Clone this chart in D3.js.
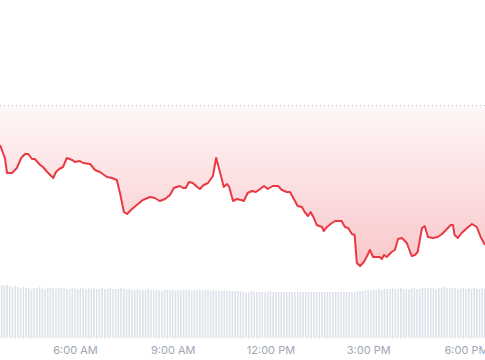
<!DOCTYPE html>
<html>
<head>
<meta charset="utf-8">
<script src="https://cdn.jsdelivr.net/npm/d3@7"></script>
<style>
  body { margin: 0; background: #fff; }
  svg { display: block; }
</style>
</head>
<body>
<div id="chart"></div>
<script>
// price series (time of day, price)
var times = ["03:42","03:51","03:55","04:04","04:13","04:21","04:28","04:34","04:41","04:46",
  "04:56","05:01","05:09","05:20","05:25","05:31","05:38","05:45","05:55","06:00",
  "06:09","06:15","06:28","06:37","06:46","06:59","07:08","07:17","07:23","07:30",
  "07:36","07:45","07:56","08:05","08:18","08:27","08:36","08:46","08:55","09:02",
  "09:13","09:19","09:24","09:30","09:37","09:45","09:50","09:57","10:05","10:14",
  "10:20","10:27","10:34","10:40","10:44","10:51","10:58","11:06","11:11","11:18",
  "11:26","11:33","11:41","11:48","11:55","12:04","12:14","12:21","12:30","12:36",
  "12:43","12:50","12:58","13:03","13:09","13:14","13:20","13:25","13:35","13:38",
  "13:44","13:53","13:59","14:11","14:17","14:23","14:30","14:35","14:39","14:45",
  "14:52","14:57","15:03","15:09","15:16","15:21","15:25","15:29","15:34","15:43",
  "15:49","15:55","16:02","16:11","16:20","16:26","16:31","16:39","16:44","16:50",
  "16:59","17:08","17:16","17:23","17:32","17:36","17:39","17:45","17:52","18:02",
  "18:11","18:20","18:27","18:35"];

var prices = [27240,27188,27128,27128,27148,27188,27204,27204,27184,27184,
  27160,27152,27132,27108,27132,27144,27152,27188,27180,27172,
  27176,27168,27164,27140,27132,27112,27108,27100,27048,26972,
  26964,26984,27004,27020,27032,27028,27016,27024,27040,27068,
  27076,27068,27068,27092,27088,27072,27064,27080,27088,27116,
  27188,27132,27072,27084,27072,27016,27024,27020,27016,27048,
  27056,27052,27064,27076,27064,27076,27076,27060,27052,27052,
  27024,26996,26992,26972,26956,26972,26948,26920,26912,26896,
  26912,26928,26936,26936,26912,26908,26884,26880,26768,26756,
  26772,26792,26820,26792,26792,26792,26784,26800,26792,26812,
  26820,26864,26868,26848,26796,26800,26812,26908,26916,26872,
  26868,26872,26884,26900,26920,26920,26880,26868,26888,26908,
  26924,26912,26872,26840];

// reference (previous close) price, the dotted line
var basePrice = 27400;

// 5-minute volume bars from 03:45 to 18:35 (millions)
var volumes = [53,52,53,52,51,52,51,50,51,
  50,50,49,50,50,51,50,49,50,50,50,49,50,50,50,49,49,50,50,49,
  50,50,49,50,49,50,49,49,50,49,49,50,49,49,49,50,49,49,49,
  48,48,49,48,48,48,49,48,48,48,48,47,48,48,48,48,47,48,48,48,
  48,48,47,48,48,48,47,48,48,47,48,47,47,47,48,47,47,47,47,47,47,
  46,46,46,47,46,46,46,46,46,46,47,46,46,46,46,46,46,46,46,46,
  46,46,46,46,46,46,46,46,46,46,46,46,46,46,46,46,46,46,46,46,46,46,47,
  47,47,48,48,47,48,48,49,48,
  49,49,49,50,49,49,50,49,49,49,50,50,49,49,50,50,50,50,50,49,
  50,50,51,50,50,50,50,49,50,50,49,50,49,50,49,49,50,49];

var tickFormat = "%-I:%M %p";

var width = 485, height = 360;
var red = "#ea3943";
var parse = d3.timeParse("%H:%M");

var points = times.map(function(t, i){ return { date: parse(t), price: prices[i] }; });

var x = d3.scaleTime()
  .domain([parse("03:42"), parse("18:35")])
  .range([0, width]);

var y = d3.scaleLinear()
  .domain([26756, basePrice])
  .range([266, 105]);

var yVol = d3.scaleLinear()
  .domain([0, 60])
  .range([338, 278]);

var svg = d3.select("#chart")
  .append("svg")
  .attr("width", width)
  .attr("height", height);

var grad = svg.append("defs")
  .append("linearGradient")
  .attr("id", "fade")
  .attr("gradientUnits", "userSpaceOnUse")
  .attr("x1", 0).attr("x2", 0)
  .attr("y1", y(basePrice)).attr("y2", y(26756));
grad.append("stop").attr("offset", "0%").attr("stop-color", red).attr("stop-opacity", 0.04);
grad.append("stop").attr("offset", "100%").attr("stop-color", red).attr("stop-opacity", 0.28);

// volume bars
var barTimes = d3.timeMinute.every(5).range(parse("03:45"), d3.timeMinute.offset(parse("18:35"), 1));
svg.append("g")
  .selectAll("rect")
  .data(volumes)
  .enter()
  .append("rect")
  .attr("x", function(d, i){ return x(barTimes[i]) - 0.8; })
  .attr("y", function(d){ return yVol(d); })
  .attr("width", 1.6)
  .attr("height", function(d){ return yVol(0) - yVol(d); })
  .attr("fill", "#dde1ea");

// area between price and reference line
var area = d3.area()
  .x(function(d){ return x(d.date); })
  .y0(y(basePrice))
  .y1(function(d){ return y(d.price); });

svg.append("path")
  .datum(points)
  .attr("d", area)
  .attr("fill", "url(#fade)");

svg.append("line")
  .attr("x1", 0).attr("x2", width)
  .attr("y1", y(basePrice) + 0.5).attr("y2", y(basePrice) + 0.5)
  .attr("stroke", "#c3c8d2")
  .attr("stroke-width", 1)
  .attr("stroke-dasharray", "1,3");

var line = d3.line()
  .x(function(d){ return x(d.date); })
  .y(function(d){ return y(d.price); });

svg.append("path")
  .datum(points)
  .attr("d", line)
  .attr("fill", "none")
  .attr("stroke", red)
  .attr("stroke-width", 2)
  .attr("stroke-linejoin", "round");

// time axis
var axis = svg.append("g")
  .attr("transform", "translate(0," + yVol(0) + ")")
  .call(d3.axisBottom(x)
    .ticks(d3.timeHour.every(3))
    .tickFormat(d3.timeFormat(tickFormat))
    .tickSize(0)
    .tickPadding(8));

axis.select(".domain").remove();
axis.selectAll("text")
  .attr("fill", "#a0a6b5")
  .attr("font-family", "Inter, 'Open Sans', sans-serif")
  .attr("font-size", 11);
</script>
</body>
</html>
